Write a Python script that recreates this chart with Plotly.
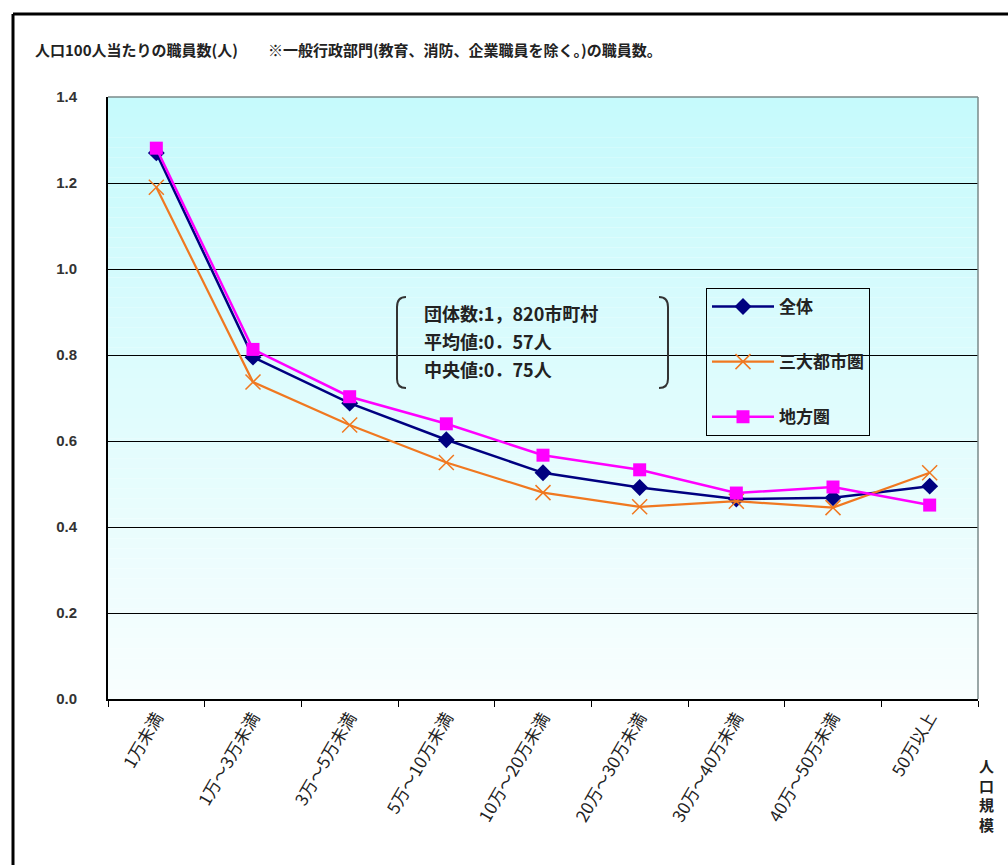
import plotly.graph_objects as go

categories = ["1万未満", "1万～3万未満", "3万～5万未満", "5万～10万未満", "10万～20万未満",
              "20万～30万未満", "30万～40万未満", "40万～50万未満", "50万以上"]
zentai = [1.27, 0.795, 0.688, 0.603, 0.526, 0.492, 0.465, 0.468, 0.495]
sandai = [1.19, 0.737, 0.637, 0.55, 0.48, 0.447, 0.46, 0.445, 0.526]
chihou = [1.281, 0.813, 0.703, 0.64, 0.567, 0.533, 0.479, 0.493, 0.451]
y_ticks = [0.0, 0.2, 0.4, 0.6, 0.8, 1.0, 1.2, 1.4]
info_lines = ["団体数:1，820市町村", "平均値:0．57人", "中央値:0．75人"]

FONT = "Noto Sans CJK JP"
W, H = 1008, 865
L, R, T, B = 108, 978, 97, 699

def px(xp):
    return (xp - L) / (R - L)

def py(yp):
    return (B - yp) / (B - T)

fig = go.Figure()
fig.add_trace(go.Scatter(x=categories, y=zentai, name="全体", mode="lines+markers",
                         legendgroup="a",
                         line=dict(color="#000080", width=2.5),
                         marker=dict(symbol="diamond", size=13, color="#000080")))
fig.add_trace(go.Scatter(x=categories, y=sandai, name="三大都市圏", mode="lines+markers",
                         legendgroup="b",
                         line=dict(color="#F07820", width=2.2),
                         marker=dict(symbol="x-thin", size=15,
                                     line=dict(color="#F07820", width=1.5))))
fig.add_trace(go.Scatter(x=categories, y=chihou, name="地方圏", mode="lines+markers",
                         legendgroup="c",
                         line=dict(color="#FF00FF", width=2.5),
                         marker=dict(symbol="square", size=13, color="#FF00FF")))

shapes = []
# gradient background bands
n = 60
c_top = (0xC6, 0xFA, 0xFC)
c_bot = (0xF8, 0xFE, 0xFE)
for i in range(n):
    t = i / (n - 1)
    col = tuple(int(round(c_bot[k] + (c_top[k] - c_bot[k]) * t)) for k in range(3))
    shapes.append(dict(type="rect", xref="x domain", yref="y domain",
                       x0=0, x1=1, y0=i / n, y1=(i + 1) / n,
                       fillcolor="rgb(%d,%d,%d)" % col, line=dict(width=0), layer="below"))
# top/right gray border of plot area
shapes.append(dict(type="line", xref="paper", yref="paper", x0=0, x1=1, y0=1, y1=1,
                   line=dict(color="#7a8a8a", width=1.5)))
shapes.append(dict(type="line", xref="paper", yref="paper", x0=1, x1=1, y0=0, y1=1,
                   line=dict(color="#7a8a8a", width=1.5)))
# outer frame (top and left)
shapes.append(dict(type="line", xref="paper", yref="paper", x0=px(13), x1=px(1015),
                   y0=py(14), y1=py(14), line=dict(color="black", width=3)))
shapes.append(dict(type="line", xref="paper", yref="paper", x0=px(13), x1=px(13),
                   y0=py(14), y1=py(870), line=dict(color="black", width=3)))
# brackets
lb = "M %f,%f Q %f,%f %f,%f L %f,%f Q %f,%f %f,%f" % (
    px(406), py(297), px(397), py(297), px(397), py(307),
    px(397), py(379), px(397), py(388), px(406), py(388))
rb = "M %f,%f Q %f,%f %f,%f L %f,%f Q %f,%f %f,%f" % (
    px(659), py(297), px(668), py(297), px(668), py(307),
    px(668), py(379), px(668), py(388), px(659), py(388))
for p in (lb, rb):
    shapes.append(dict(type="path", xref="paper", yref="paper", path=p,
                       line=dict(color="#333333", width=2)))

annotations = [
    dict(text="<b>人口100人当たりの職員数(人)　　※一般行政部門(教育、消防、企業職員を除く。)の職員数。</b>",
         xref="paper", yref="paper", x=px(33), y=py(50), xanchor="left", yanchor="middle",
         showarrow=False, font=dict(family=FONT, size=15, color="#222222")),
    dict(text="<b>人<br>口<br>規<br>模</b>", xref="paper", yref="paper", x=px(986), y=py(795),
         xanchor="center", yanchor="middle", showarrow=False,
         font=dict(family=FONT, size=15, color="#222222")),
]
for i, line in enumerate(info_lines):
    annotations.append(dict(text="<b>" + line + "</b>", xref="paper", yref="paper",
                            x=px(422), y=py(313 + 28 * i),
                            xanchor="left", yanchor="middle", showarrow=False,
                            font=dict(family=FONT, size=18, color="#222222")))

fig.update_layout(
    width=W, height=H,
    margin=dict(l=L, r=W - R, t=T, b=H - B),
    paper_bgcolor="white",
    plot_bgcolor="rgba(0,0,0,0)",
    font=dict(family=FONT, color="#222222"),
    shapes=shapes,
    annotations=annotations,
    legend=dict(x=px(706), y=py(288), xanchor="left", yanchor="top",
                bordercolor="black", borderwidth=1, bgcolor="rgba(0,0,0,0)",
                font=dict(family=FONT, size=17, color="#222222", weight="bold"),
                tracegroupgap=30, itemwidth=62, entrywidth=170),
    xaxis=dict(type="category", range=[-0.5, 8.5], tickangle=-60,
               ticks="outside", ticklen=6, tickson="boundaries", tickcolor="black",
               showline=True, linecolor="black", linewidth=2, showgrid=False,
               tickfont=dict(family=FONT, size=17, color="#222222")),
    yaxis=dict(range=[0, 1.4], tickvals=y_ticks, tickformat=".1f",
               ticks="", ticklabelstandoff=26,
               showline=True, linecolor="black", linewidth=2,
               showgrid=True, gridcolor="black", gridwidth=1, zeroline=False,
               tickfont=dict(family="Liberation Sans", size=15, color="#333333",
                             weight="bold")),
)

fig.write_html("out.html")
